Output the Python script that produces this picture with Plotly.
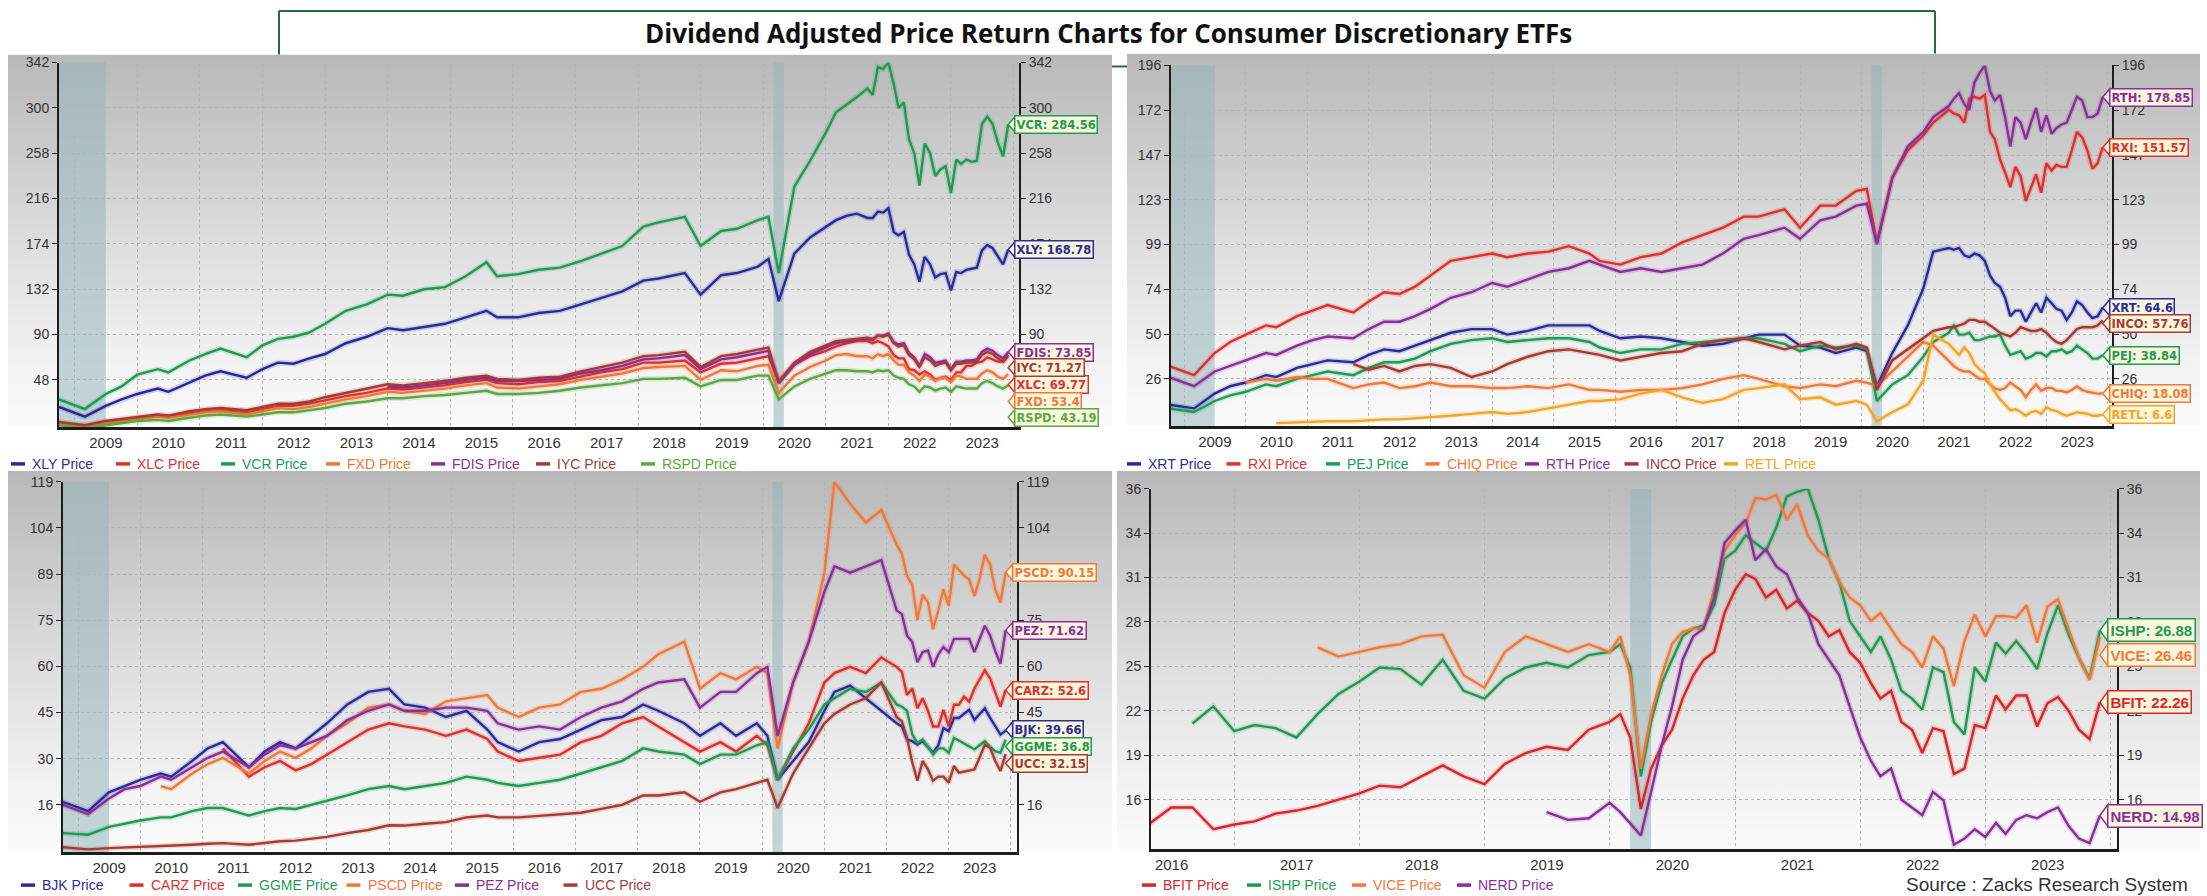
import base64
import plotly.graph_objects as go

W, H = 2207, 896

# ======================= DATA =======================
# ---- top-left panel ----
TL_DATES = [
    "2008-10", "2009-03", "2009-07", "2009-10", "2010-01", "2010-05", "2010-07", "2010-11",
    "2011-02", "2011-05", "2011-10", "2012-01", "2012-04", "2012-07", "2012-10", "2013-01",
    "2013-05", "2013-09", "2014-01", "2014-04", "2014-08", "2014-12", "2015-04", "2015-08",
    "2015-10", "2016-02", "2016-06", "2016-10", "2017-02", "2017-06", "2017-10", "2018-02",
    "2018-05", "2018-10", "2019-01", "2019-05", "2019-08", "2019-12", "2020-02", "2020-04",
    "2020-07", "2020-10", "2021-01", "2021-03", "2021-05", "2021-07", "2021-09",
    "2021-10", "2021-11", "2021-12", "2022-01", "2022-02", "2022-03", "2022-04", "2022-05",
    "2022-06", "2022-07", "2022-08", "2022-09", "2022-10", "2022-11", "2022-12", "2023-01",
    "2023-02", "2023-03", "2023-04", "2023-05", "2023-06", "2023-07", "2023-08", "2023-09",
    "2023-10", "2023-11", "2023-12"]
XLY = [23, 14, 24, 30, 35, 40, 37, 46, 52, 56, 50, 58, 64, 63, 68, 72,
       82, 88, 96, 94, 97, 100, 106, 112, 106, 106, 110, 112, 118, 124, 130, 140,
       142, 147, 127, 145, 147, 153, 160, 121, 165, 180, 190, 196, 200, 202, 198,
       198, 204, 203, 207, 185, 182, 185, 164, 155, 139, 162, 155, 143, 146, 147, 131,
       148, 147, 150, 151, 152, 168, 173, 170, 162, 155, 168.78]
XLC = [8, 5, 9, 11, 13, 15, 14, 17, 19, 20, 18, 21, 24, 24, 26, 29,
       33, 36, 40, 39, 41, 43, 46, 48, 45, 44, 46, 47, 51, 55, 58, 64,
       64, 66, 55, 63, 64, 68, 70, 47, 62, 70, 75, 79, 82, 84, 84,
       82, 84, 82, 79, 71, 68, 68, 58, 57, 53, 56, 53, 48, 50, 51, 48,
       55, 55, 61, 61, 64, 65, 69, 67, 65, 65, 69.77]
VCR = [30, 21, 35, 42, 53, 58, 55, 66, 72, 77, 69, 80, 86, 88, 92, 100,
       112, 118, 127, 126, 132, 134, 144, 157, 144, 146, 150, 152, 158, 165, 172, 190,
       194, 199, 172, 186, 188, 196, 199, 147, 227, 251, 277, 296, 303, 310, 318,
       312, 338, 336, 342, 322, 300, 305, 271, 258, 228, 267, 258, 237, 243, 246, 221,
       252, 248, 252, 250, 251, 285, 292, 285, 268, 255, 284.56]
FXD = [7, 4, 8, 10, 12, 14, 13, 16, 18, 19, 16, 19, 22, 21, 23, 26,
       30, 33, 37, 36, 38, 40, 43, 45, 41, 40, 42, 44, 48, 51, 54, 59,
       60, 61, 48, 57, 56, 61, 62, 36, 52, 60, 66, 71, 72, 70, 70,
       68, 72, 70, 72, 66, 62, 62, 55, 52, 47, 53, 51, 47, 50, 50, 46,
       52, 51, 49, 49, 49, 54, 57, 55, 51, 49, 53.4]
FDIS = [None] * 18 + [42, 41, 43, 45, 48, 50, 47, 47, 48, 49, 54, 57, 61, 67,
                      68, 71, 58, 67, 69, 73, 75, 45, 62, 72, 78, 82, 84, 85, 86,
                      85, 89, 89, 91, 83, 81, 82, 73, 69, 61, 72, 69, 64, 65, 66, 58,
                      65, 65, 66, 66, 67, 74, 77, 75, 71, 68, 73.85]
IYC = [9, 6, 10, 12, 14, 16, 15, 19, 21, 22, 20, 23, 26, 26, 28, 32,
       36, 40, 44, 43, 45, 47, 50, 52, 49, 48, 50, 51, 56, 60, 64, 70,
       71, 74, 60, 70, 72, 76, 78, 46, 64, 74, 80, 84, 85, 86, 87,
       86, 89, 88, 90, 82, 79, 80, 71, 67, 60, 69, 66, 61, 63, 64, 57,
       63, 63, 64, 64, 65, 71, 74, 72, 68, 65, 71.27]
RSPD = [6, 3, 6, 8, 10, 11, 10, 13, 15, 16, 14, 16, 18, 18, 20, 22,
        26, 28, 31, 31, 33, 34, 36, 38, 35, 35, 36, 38, 41, 43, 45, 49,
        49, 50, 42, 48, 48, 52, 52, 30, 42, 49, 54, 57, 57, 56, 56,
        55, 57, 56, 57, 52, 50, 49, 44, 42, 37, 42, 41, 38, 40, 41, 37,
        42, 41, 40, 40, 40, 45, 47, 45, 42, 40, 43.19]
TL_TICKS = ["342", "300", "258", "216", "174", "132", "90", "48"]

# ---- top-right panel ----
TR_DATES = [
    "2008-10", "2009-03", "2009-07", "2009-10", "2010-01", "2010-05", "2010-07", "2010-11",
    "2011-02", "2011-05", "2011-10", "2012-01", "2012-04", "2012-07", "2012-10", "2013-01",
    "2013-05", "2013-09", "2014-01", "2014-04", "2014-08", "2014-12", "2015-04", "2015-08",
    "2015-10", "2016-02", "2016-06", "2016-10", "2017-02", "2017-06", "2017-10", "2018-02",
    "2018-05", "2018-10", "2019-01", "2019-05", "2019-08", "2019-12", "2020-02", "2020-04",
    "2020-07", "2020-10", "2021-01", "2021-03",
    "2021-06", "2021-07", "2021-08", "2021-09", "2021-10", "2021-11", "2021-12", "2022-01",
    "2022-02", "2022-03", "2022-04", "2022-05", "2022-06", "2022-07", "2022-08", "2022-09",
    "2022-10", "2022-11", "2022-12", "2023-01", "2023-02", "2023-03", "2023-04", "2023-05",
    "2023-06", "2023-07", "2023-08", "2023-09", "2023-10", "2023-11", "2023-12"]
XRT = [12, 10, 18, 22, 24, 28, 27, 32, 34, 36, 35, 39, 42, 41, 44, 47,
       51, 53, 53, 50, 52, 55, 55, 55, 52, 48, 49, 48, 46, 44, 45, 48,
       50, 50, 44, 43, 40, 43, 41, 22, 40, 55, 75, 95,
       97, 96, 97, 93, 92, 94, 93, 90, 82, 78, 76, 70, 60, 63, 63, 57,
       62, 67, 62, 70, 67, 64, 63, 58, 62, 68, 66, 62, 59, 60, 64.6]
RXI = [33, 28, 40, 46, 50, 55, 54, 60, 63, 66, 62, 68, 73, 72, 76, 82,
       90, 92, 94, 92, 94, 95, 98, 94, 90, 88, 92, 94, 100, 104, 108, 114,
       114, 118, 108, 120, 120, 128, 129, 100, 135, 150, 158, 165,
       172, 170, 169, 165, 178, 179, 178, 180, 160, 156, 145, 138, 130, 141, 136, 122.5,
       130, 137, 127, 143, 139, 142, 141, 141, 150, 160, 157, 150, 140, 143, 151.57]
PEJ = [10, 8, 14, 17, 19, 23, 22, 26, 28, 30, 28, 32, 35, 35, 37, 41,
       45, 47, 48, 46, 47, 48, 48, 46, 43, 40, 42, 42, 45, 46, 47, 48,
       48, 45, 41, 44, 43, 44, 42, 14, 23, 28, 38, 46,
       51, 55, 50, 50, 51, 47, 47, 48, 49, 49, 50, 44, 39, 40, 41, 37,
       38, 40, 40, 38, 41, 41, 42, 40, 41, 44, 42, 40, 37, 37, 38.84]
CHIQ = [None, None, None, None, 24, 26, 25, 27, 26, 26, 21, 23, 24, 21, 22, 24,
        22, 22, 21, 21, 22, 21, 23, 20, 20, 19, 20, 20, 21, 23, 26, 28,
        26, 22, 21, 23, 22, 25, 24, 22, 30, 38, 46, 44,
        36, 33, 31, 30, 30, 28, 26, 26, 23, 21, 20, 21, 24, 22, 20, 16,
        20, 23, 19.5, 21, 21, 19.5, 19.5, 18.6, 20, 22, 20, 19, 18.6, 18, 18.08]
RTH = [27, 22, 30, 33, 36, 40, 39, 44, 47, 49, 48, 53, 57, 57, 60, 64,
       70, 73, 78, 76, 80, 84, 86, 90, 88, 84, 86, 84, 86, 88, 94, 102,
       104, 108, 102, 112, 114, 120, 121, 99, 135, 152, 160, 168,
       174, 178, 181, 175, 172, 187, 192, 196, 182, 177, 180, 168, 152, 168, 165, 156,
       165, 173, 160, 169, 159, 162, 164, 165, 172, 179, 177, 168, 168, 170, 178.85]
INCO = [None] * 10 + [34, 31, 33, 30, 33, 34, 32, 27, 30, 34, 38, 41, 42, 40,
                      39, 36, 38, 40, 41, 45, 47, 48, 46, 42, 44, 46, 42, 45, 43, 20,
                      36, 42, 48, 52,
                      54, 54, 55, 56, 58, 58, 57, 57, 55, 53, 51, 50, 49, 51, 54, 53,
                      52, 52, 53, 51, 48, 46, 45, 47, 50, 53, 54, 54, 54, 55, 57.76]
RETL = [None] * 6 + [2, 2.5, 3, 3, 3, 3.5, 4, 4, 4.5, 5,
                     6, 7, 8, 7, 8, 10, 12, 14, 14, 15, 18, 20, 16, 13, 15, 20,
                     21, 23, 15, 16, 12, 14, 12, 3, 8, 12, 25, 50,
                     45, 42, 39, 43, 40, 34, 31, 29, 23, 19, 15, 12, 9, 9.5, 8, 6,
                     8, 8.6, 7, 10.7, 9, 8.6, 7, 6, 7, 7.8, 7.5, 7, 6, 6, 6.6]
TR_TICKS = ["196", "172", "147", "123", "99", "74", "50", "26"]

# ---- bottom-left panel ----
BL_DATES = [
    "2008-10", "2009-03", "2009-07", "2009-10", "2010-01", "2010-05", "2010-07", "2010-11",
    "2011-02", "2011-05", "2011-10", "2012-01", "2012-04", "2012-07", "2012-10", "2013-01",
    "2013-05", "2013-09", "2014-01", "2014-04", "2014-08", "2014-12", "2015-04", "2015-08",
    "2015-10", "2016-02", "2016-06", "2016-10", "2017-02", "2017-06", "2017-10", "2018-02",
    "2018-05", "2018-10", "2019-01", "2019-05", "2019-08", "2019-12", "2020-02", "2020-04",
    "2020-07", "2020-10", "2021-01", "2021-03", "2021-06", "2021-09", "2021-12",
    "2022-03", "2022-04", "2022-05", "2022-06", "2022-07", "2022-08", "2022-09", "2022-10",
    "2022-11", "2022-12", "2023-01", "2023-02", "2023-03", "2023-04", "2023-05", "2023-06",
    "2023-07", "2023-08", "2023-09", "2023-10", "2023-11", "2023-12"]
BJK = [17, 14, 20, 22, 24, 26, 25, 30, 34, 36, 28, 33, 36, 34, 38, 42,
       48, 52, 53, 48, 47, 44, 46, 40, 36, 33, 36, 37, 40, 43, 44, 48,
       46, 42, 38, 42, 38, 42, 38, 24, 30, 36, 46, 52, 54, 50, 46,
       42, 41, 36.8, 36.3, 35.2, 36.3, 34.5, 32.6, 35, 40.5, 39.5, 43.7, 43.7, 45, 46.3, 43.1,
       45, 46.8, 43.7, 41, 38.4, 39.66]
CARZ = [None] * 9 + [34, 25, 28, 30, 27, 29, 32, 36, 40, 42, 41, 40, 38, 40, 37,
                     33, 30, 31, 32, 36, 38, 42, 44, 41, 36, 33, 36, 33, 38, 35, 24,
                     33, 42, 55, 58, 60, 58, 63,
                     60, 58.4, 51, 53.1, 46.8, 50, 46, 41, 41, 46.3, 41, 47.9, 47.9, 50.5, 48.9, 53.1,
                     56, 58.9, 56.3, 52, 47.3, 52.6]
GGME = [7, 6.5, 9, 10, 11, 12, 12, 14, 15, 15, 12.6, 14, 15, 14.7, 16, 17.3,
        19, 21, 22, 21, 22, 23, 25, 24, 23, 22, 23, 24, 26, 28, 30, 34,
        33, 32, 29, 32, 32, 35, 36, 24, 34, 40, 48, 50, 53, 52, 55,
        48, 47.3, 46, 38.4, 35.8, 36.8, 34.5, 32.1, 34, 34, 32.6, 37.3, 36.5, 35.5, 34.7, 33.7,
        35, 36.3, 34.5, 33.1, 32.6, 36.8]
PSCD = [None] * 5 + [22, 21, 26, 29, 31, 26, 30, 33, 31, 34, 38,
                     42, 47, 48, 46, 45, 49, 50, 51, 47, 44, 47, 48, 52, 53, 56, 60,
                     64, 68, 53, 58, 56, 60, 58, 34, 55, 68, 90, 119, 112, 106, 110,
                     99, 96, 89, 86, 75, 83, 80.5, 72, 78, 84.7, 79.4, 92.6, 91, 89, 87.9, 82.6,
                     88, 95.7, 92.6, 84.7, 80.5, 90.15]
PEZ = [16, 13, 18, 21, 22, 25, 24, 28, 31, 33, 28, 32, 35, 34, 36, 38,
       43, 46, 48, 46, 46, 47, 47, 46, 42, 40, 41, 40, 44, 47, 49, 53,
       55, 56, 47, 52, 52, 58, 60, 38, 55, 68, 84, 92, 90, 92, 94,
       78, 76.8, 70, 67.9, 61.5, 64.7, 65.2, 60, 64, 66.3, 64.7, 68.9, 68.9, 68.9, 68.9, 64.7,
       69, 73.1, 70, 65, 61, 71.62]
UCC = [2.5, 1.8, 2.2, 2.4, 2.6, 2.9, 2.8, 3.3, 3.6, 3.8, 3.3, 3.8, 4.4, 4.6, 5.2, 5.8,
       7, 8, 9.5, 9.4, 10, 10.5, 12, 12.6, 12, 12, 12.5, 13, 13.5, 14.7, 16, 19,
       19, 20, 17, 20, 21, 23, 24, 15, 26, 34, 42, 45, 48, 50, 55,
       44, 42.6, 37.3, 29.5, 23.7, 30, 27.3, 23.7, 25, 25, 23.1, 28.4, 26.3, 26.6, 26.8, 27.3,
       31, 35.2, 34.2, 30, 26.8, 32.15]
BL_TICKS = ["119", "104", "89", "75", "60", "45", "30", "16"]

# ---- bottom-right panel ----
BR_DATES = [
    "2016-05", "2016-07", "2016-09", "2016-11", "2017-01", "2017-03", "2017-05", "2017-07",
    "2017-09", "2017-11", "2018-01", "2018-03", "2018-05", "2018-07", "2018-09", "2018-11",
    "2019-01", "2019-03", "2019-05", "2019-07", "2019-09", "2019-11",
    "2020-01", "2020-02", "2020-03", "2020-04", "2020-05", "2020-06", "2020-07", "2020-08",
    "2020-09", "2020-10", "2020-11", "2020-12", "2021-01", "2021-02", "2021-03", "2021-04",
    "2021-05", "2021-06", "2021-07", "2021-08", "2021-09", "2021-10", "2021-11", "2021-12",
    "2022-01", "2022-02", "2022-03", "2022-04", "2022-05", "2022-06", "2022-07", "2022-08",
    "2022-09", "2022-10", "2022-11", "2022-12", "2023-01", "2023-02", "2023-03", "2023-04",
    "2023-05", "2023-06", "2023-07", "2023-08", "2023-09", "2023-10", "2023-11", "2023-12"]
BFIT = [14.5, 15.5, 15.5, 14.1, 14.4, 14.6, 15.1, 15.3, 15.6, 16.0, 16.4, 16.9, 16.8, 17.5, 18.2, 17.5,
        17.0, 18.3, 19.0, 19.4, 19.2, 20.5,
        21.0, 21.5, 20.0, 15.4, 18.0, 19.5, 20.5, 22.5, 24.0, 25.0, 25.5, 28.0,
        29.5, 30.5, 30.2, 29.0, 29.5, 28.3, 28.8, 28.0, 27.5, 26.5, 26.9, 25.5,
        24.8, 23.5, 22.5, 23.0, 21.0, 20.5, 19.0, 20.6, 20.4, 17.65, 18.0, 20.8,
        20.6, 22.7, 21.8, 22.7, 22.7, 20.7, 22.2, 22.6, 21.7, 20.5, 19.9, 22.26]
ISHP = [None, None, 20.9, 22.0, 20.4, 20.8, 20.6, 20.0, 21.5, 22.8, 23.6, 24.5, 24.4, 23.4, 25.0, 23.0,
        22.5, 23.8, 24.5, 24.8, 24.5, 25.3,
        25.5, 26.0, 24.5, 17.5, 21.0, 23.5, 25.0, 26.5, 27.0, 27.2, 28.5, 31.5,
        32.0, 33.0, 32.5, 32.0, 33.5, 35.5, 35.8, 36.0, 34.0, 31.5, 30.0, 27.5,
        26.5, 25.5, 26.5, 25.0, 23.0, 22.5, 21.8, 24.5, 24.2, 21.0, 20.2, 24.5,
        23.6, 26.1, 25.4, 26.2, 25.4, 24.4, 26.7, 28.5, 26.6, 25.1, 23.8, 26.88]
VICE = [None] * 8 + [25.8, 25.2, 25.5, 25.8, 26.0, 26.5, 26.6, 24.0, 23.2, 25.5, 26.5, 26.0, 25.5, 26.0,
                     25.5, 26.5, 24.0, 18.0, 21.5, 24.0, 26.0, 26.8, 27.0, 27.0, 29.5, 32.0,
                     33.0, 33.8, 35.4, 35.3, 35.6, 34.0, 35.0, 33.0, 32.0, 31.5, 30.0, 29.0,
                     28.5, 27.5, 28.0, 27.0, 26.0, 25.5, 24.5, 26.5, 25.7, 23.3, 26.2, 27.9,
                     26.5, 27.8, 27.8, 27.7, 28.5, 26.1, 28.4, 28.9, 27.0, 25.1, 23.7, 26.46]
NERD = [None] * 19 + [15.2, 14.7, 14.8,
                      15.8, 15.2, 14.5, 13.7, 16.5, 19.5, 22.0, 25.0, 26.5, 27.0, 29.0, 32.5,
                      33.3, 34.0, 31.4, 32.1, 31.0, 30.5, 29.0, 28.0, 26.0, 25.0, 24.0, 22.0,
                      20.0, 18.5, 17.5, 18.0, 16.0, 15.5, 15.0, 16.5, 15.95, 13.1, 13.5, 14.1,
                      13.6, 14.5, 13.8, 14.7, 15.0, 14.8, 15.2, 15.5, 14.3, 13.5, 13.2, 14.98]
BR_TICKS = ["36", "34", "31", "28", "25", "22", "19", "16"]

TITLE = "Dividend Adjusted Price Return Charts for Consumer Discretionary ETFs"
SOURCE = "Source : Zacks Research System"

# ======================= STYLE =======================
BLUE, RED, GREEN, ORANGE = "#2b2b9c", "#e0302c", "#1f9a52", "#f37838"
PURPLE, BROWN, LGREEN, AMBER = "#8a2e9a", "#a63a34", "#5aa83e", "#f5a524"
CREAM = "#fbf7dc"
NARROW = "Liberation Sans Narrow, Arial Narrow, Liberation Sans, Arial, sans-serif"
LABFONT = "DejaVu Sans, Verdana, sans-serif"

PANELS = [
    dict(dates=TL_DATES,
         series=[("XLY", XLY, BLUE), ("XLC", XLC, RED), ("VCR", VCR, GREEN), ("FXD", FXD, ORANGE),
                 ("FDIS", FDIS, PURPLE), ("IYC", IYC, BROWN), ("RSPD", RSPD, LGREEN)],
         xpx=(59, 1019), ypx=(55, 423), yrange=(4.2, 342), ticks=TL_TICKS, tickspan=(342, 48),
         xrange=("2008-10-01", "2024-02-02"), years=(2009, 2023),
         bands=[("2008-10-01", "2009-07-01"), ("2020-03-01", "2020-05-01")],
         bg=(8, 47, 1112, 423), leg=(11, 460, 105),
         laby={"VCR": 284.56, "XLY": 168.78, "FDIS": 73.85, "IYC": 59.3, "XLC": 43.6,
               "FXD": 28.0, "RSPD": 13.4},
         labfont=(LABFONT, 11.5), pad=1, ptr=(7, 8)),
    dict(dates=TR_DATES,
         series=[("XRT", XRT, BLUE), ("RXI", RXI, RED), ("PEJ", PEJ, GREEN), ("CHIQ", CHIQ, ORANGE),
                 ("RTH", RTH, PURPLE), ("INCO", INCO, BROWN), ("RETL", RETL, AMBER)],
         xpx=(1171, 2112), ypx=(58, 422), yrange=(0.3, 196), ticks=TR_TICKS, tickspan=(196, 26),
         xrange=("2008-10-15", "2024-01-25"), years=(2009, 2023),
         bands=[("2008-10-01", "2009-07-01"), ("2020-03-01", "2020-05-01")],
         bg=(1127, 46, 2200, 422), leg=(1127, 460, 99.5),
         laby={"RTH": 178.85, "RXI": 151.57, "XRT": 64.6, "INCO": 56.0, "PEJ": 38.84,
               "CHIQ": 18.08, "RETL": 6.6},
         labfont=(LABFONT, 11.5), pad=1, ptr=(7, 8)),
    dict(dates=BL_DATES,
         series=[("BJK", BJK, BLUE), ("CARZ", CARZ, RED), ("GGME", GGME, GREEN), ("PSCD", PSCD, ORANGE),
                 ("PEZ", PEZ, PURPLE), ("UCC", UCC, BROWN)],
         xpx=(63, 1017), ypx=(478, 852), yrange=(0.85, 119), ticks=BL_TICKS, tickspan=(119, 16),
         xrange=("2008-10-04", "2024-02-06"), years=(2009, 2023),
         bands=[("2008-10-01", "2009-07-01"), ("2020-03-01", "2020-05-01")],
         bg=(8, 467, 1112, 852), leg=(21, 885, 108.5),
         laby={"PSCD": 90.15, "PEZ": 71.62, "CARZ": 52.6, "BJK": 39.9, "GGME": 34.6, "UCC": 29.3},
         labfont=(LABFONT, 11.5), pad=1, ptr=(7, 8)),
    dict(dates=BR_DATES,
         series=[("BFIT", BFIT, "#d9262a"), ("ISHP", ISHP, GREEN), ("VICE", VICE, ORANGE),
                 ("NERD", NERD, PURPLE)],
         xpx=(1151, 2117), ypx=(485, 849), yrange=(12.8, 36), ticks=BR_TICKS, tickspan=(36, 16),
         xrange=("2016-05-03", "2024-01-20"), years=(2016, 2023),
         bands=[("2020-03-01", "2020-05-01")],
         bg=(1117, 467, 2200, 849), leg=(1142, 885, 105),
         laby={"ISHP": 26.88, "VICE": 25.3, "BFIT": 22.26, "NERD": 14.98},
         labfont=(NARROW, 15), pad=2, ptr=(8, 11)),
]


def px(x):
    return x / W


def py(y):
    return 1 - y / H


def gradient_uri(w, h):
    svg = (f'<svg xmlns="http://www.w3.org/2000/svg" width="{w}" height="{h}" '
           f'viewBox="0 0 {w} {h}" preserveAspectRatio="none">'
           '<defs><linearGradient id="g" x1="0" y1="0" x2="0" y2="1">'
           '<stop offset="0" stop-color="#b8b8b8"/><stop offset="0.5" stop-color="#dddddd"/>'
           '<stop offset="0.8" stop-color="#f1f1f1"/><stop offset="1" stop-color="#fbfbfb"/>'
           '</linearGradient></defs>'
           f'<rect x="0" y="0" width="{w}" height="{h}" fill="url(#g)"/></svg>')
    return "data:image/svg+xml;base64," + base64.b64encode(svg.encode()).decode()


fig = go.Figure()
shapes, annotations, images = [], [], []
layout = {}

for i, P in enumerate(PANELS):
    xa = "x" if i == 0 else f"x{i + 1}"
    yl = "y" if i == 0 else f"y{2 * i + 1}"
    yr = f"y{2 * i + 2}"
    xkey = "xaxis" if i == 0 else f"xaxis{i + 1}"
    ylkey = "yaxis" if i == 0 else f"yaxis{2 * i + 1}"
    yrkey = f"yaxis{2 * i + 2}"
    dates = P["dates"]

    for name, vals, col in P["series"]:
        assert len(vals) == len(dates), (name, len(vals), len(dates))
        # soft halo under each line (the reference lines look slightly blurred)
        fig.add_trace(go.Scatter(x=dates, y=vals, mode="lines", xaxis=xa, yaxis=yl,
                                 line=dict(color=col, width=5.5), opacity=0.18,
                                 showlegend=False, hoverinfo="skip"))
        fig.add_trace(go.Scatter(x=dates, y=vals, mode="lines", xaxis=xa, yaxis=yl,
                                 name=f"{name} Price", showlegend=False,
                                 line=dict(color=col, width=2.4), hoverinfo="skip"))
    # invisible anchor for the right-hand axis
    fig.add_trace(go.Scatter(x=[dates[-1]], y=[P["series"][0][1][-1]], xaxis=xa, yaxis=yr,
                             mode="markers", marker=dict(opacity=0), showlegend=False,
                             hoverinfo="skip"))

    lo, hi = P["yrange"]
    t0, t1 = P["tickspan"]
    tv = [t0 - k * (t0 - t1) / 7 for k in range(8)]

    y0, y1 = P["years"]
    layout[xkey] = dict(
        domain=[px(P["xpx"][0]), px(P["xpx"][1])], anchor=yl, type="date",
        range=list(P["xrange"]), tickmode="array",
        tickvals=[f"{y}-07-02" for y in range(y0, y1 + 1)],
        ticktext=[str(y) for y in range(y0, y1 + 1)],
        ticks="", showgrid=False, showline=True, linecolor="#1c1c1c", linewidth=3,
        zeroline=False, tickfont=dict(family=NARROW, size=15, color="#333"),
        minor=dict(tickmode="array", tickvals=[f"{y}-01-01" for y in range(y0, y1 + 2)],
                   showgrid=True, gridcolor="#b4b4b4", griddash="dot", gridwidth=1, ticks=""),
        fixedrange=True)
    common_y = dict(range=[lo, hi], tickmode="array", tickvals=tv, ticktext=P["ticks"],
                    ticks="outside", ticklen=5, tickcolor="#222", tickwidth=1,
                    showline=True, linecolor="#1c1c1c", linewidth=2, zeroline=False,
                    tickfont=dict(family=NARROW, size=14, color="#333"), fixedrange=True)
    layout[ylkey] = dict(domain=[py(P["ypx"][1]), py(P["ypx"][0])], anchor=xa, side="left",
                         showgrid=True, gridcolor="#b4b4b4", griddash="dot", gridwidth=1,
                         **common_y)
    layout[yrkey] = dict(overlaying=yl, anchor=xa, side="right", showgrid=False, **common_y)

    # legend row: short coloured dash + coloured text
    lx, ly_, step = P["leg"]
    for k, (name, vals, col) in enumerate(P["series"]):
        x0 = lx + k * step
        shapes.append(dict(type="line", xref="paper", yref="paper", x0=px(x0), x1=px(x0 + 14),
                           y0=py(ly_), y1=py(ly_), line=dict(color=col, width=3.5)))
        annotations.append(dict(x=px(x0 + 19), y=py(ly_), xref="paper", yref="paper",
                                text=f"{name} Price", showarrow=False, xanchor="left",
                                yanchor="middle", font=dict(family=NARROW, size=14, color=col)))

    # gradient panel background
    bx0, by0, bx1, by1 = P["bg"]
    images.append(dict(source=gradient_uri(bx1 - bx0, by1 - by0), xref="paper", yref="paper",
                       x=px(bx0), y=py(by0), sizex=(bx1 - bx0) / W, sizey=(by1 - by0) / H,
                       xanchor="left", yanchor="top", sizing="stretch", layer="below"))
    # recession bands
    for b0, b1 in P["bands"]:
        shapes.append(dict(type="rect", xref=xa, yref=f"{yl} domain", x0=b0, x1=b1, y0=0, y1=1,
                           fillcolor="rgba(150,182,186,0.55)", line=dict(width=0), layer="below"))
    # end-value labels
    pw, ph = P["ptr"]
    fam, fsize = P["labfont"]
    for name, vals, col in P["series"]:
        ly = P["laby"][name]
        shapes.append(dict(type="path", xref=xa, yref=yr, xsizemode="pixel", ysizemode="pixel",
                           xanchor=dates[-1], yanchor=ly,
                           path=f"M0,0 L{pw},{ph} L{pw},{-ph} Z",
                           fillcolor=CREAM, line=dict(color=col, width=1.5), layer="above"))
        annotations.append(dict(x=dates[-1], y=ly, xref=xa, yref=yr, showarrow=False,
                                text=f"<b>{name}: {vals[-1]}</b>", xanchor="left",
                                yanchor="middle", xshift=pw - 1,
                                font=dict(family=fam, size=fsize, color=col),
                                bgcolor=CREAM, bordercolor=col, borderwidth=1.5,
                                borderpad=P["pad"]))

# title box (partly hidden behind the panels)
GREEN_DARK = "#2a6a42"
for (xa0, ya0, xa1, ya1) in [(279, 3, 1935, 3), (279, 3, 279, 47), (1935, 3, 1935, 46),
                             (1112, 59, 1127, 59)]:
    shapes.append(dict(type="line", xref="paper", yref="paper", x0=px(xa0), y0=py(ya0),
                       x1=px(xa1), y1=py(ya1), line=dict(color=GREEN_DARK, width=2),
                       layer="below"))

annotations.append(dict(x=px(1108), y=py(25), xref="paper", yref="paper", showarrow=False,
                        text=f"<b>{TITLE}</b>", xanchor="center", yanchor="middle",
                        font=dict(family="Open Sans, Lato, sans-serif", size=26, color="#111")))
annotations.append(dict(x=px(2190), y=py(884), xref="paper", yref="paper", showarrow=False,
                        text=SOURCE, xanchor="right", yanchor="middle",
                        font=dict(family=NARROW, size=19, color="#333")))

fig.update_layout(
    width=W, height=H, margin=dict(l=0, r=0, t=0, b=0),
    paper_bgcolor="white", plot_bgcolor="rgba(0,0,0,0)",
    showlegend=False, hovermode=False,
    shapes=shapes, annotations=annotations, images=images, **layout)

# remove the browser's default page margin so the figure fills the window exactly
fig.write_html("out.html", config={"displayModeBar": False}, post_script=(
    "document.body.style.margin='0';document.body.style.padding='0';"
    "document.documentElement.style.overflow='hidden';"))
